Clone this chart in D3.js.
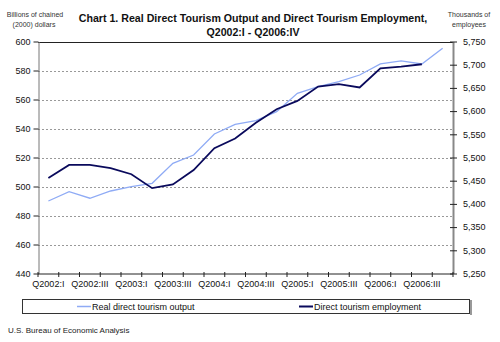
<!DOCTYPE html>
<html><head><meta charset="utf-8">
<script src="https://cdn.jsdelivr.net/npm/d3@7"></script>
<style>body{margin:0;background:#fff}svg{display:block;font-family:"Liberation Sans",Arial,sans-serif}</style>
</head><body><svg id="c" width="500" height="342"></svg>
<script>
const quarters = ["Q2002:I","Q2002:II","Q2002:III","Q2002:IV","Q2003:I","Q2003:II","Q2003:III","Q2003:IV",
 "Q2004:I","Q2004:II","Q2004:III","Q2004:IV","Q2005:I","Q2005:II","Q2005:III","Q2005:IV",
 "Q2006:I","Q2006:II","Q2006:III","Q2006:IV"];
const outputVals = [490,496.4,491.9,496.9,499.9,502.2,516,521.7,536.2,542.9,545.4,551.6,564.3,568.8,572.3,576.9,584.5,586.6,584.5,595.3];
const employmentVals = [5456,5484,5484,5477,5464,5434,5442,5473,5520,5541,5575,5604,5622,5653,5658,5651,5692,5696,5701];
const leftTicks = [440,460,480,500,520,540,560,580,600];
const rightTicks = [5250,5300,5350,5400,5450,5500,5550,5600,5650,5700,5750];
const xLabelsShown = ["Q2002:I","Q2002:III","Q2003:I","Q2003:III","Q2004:I","Q2004:III","Q2005:I","Q2005:III","Q2006:I","Q2006:III"];

const svg = d3.select("#c");
const L = 38, R = 453, T = 41.5, B = 273.5;
const x = d3.scaleBand().domain(quarters).range([L, R]);
const yL = d3.scaleLinear().domain([440,600]).range([B, T]);
const yR = d3.scaleLinear().domain([5250,5750]).range([B, T]);
const cx = q => x(q) + x.bandwidth()/2;

// gridlines
svg.append("g").selectAll("line").data(leftTicks.filter(d => d>440 && d<600)).join("line")
  .attr("x1", L).attr("x2", R).attr("y1", d => Math.round(yL(d))+0.5).attr("y2", d => Math.round(yL(d))+0.5)
  .attr("stroke", "#999").attr("stroke-dasharray", "2,2").attr("stroke-width", 1);
// top border
svg.append("line").attr("x1", L).attr("x2", R).attr("y1", Math.round(T)+0.5).attr("y2", Math.round(T)+0.5).attr("stroke", "#222");

// left axis
const gl = svg.append("g").attr("transform", `translate(${L+0.5},0)`)
  .call(d3.axisLeft(yL).tickValues(leftTicks).tickSize(5).tickSizeOuter(0).tickPadding(3));
gl.select(".domain").attr("stroke", "#777");
gl.selectAll(".tick line").attr("stroke", "#222");
gl.selectAll("text").attr("font-size", 9).attr("fill", "#111").attr("font-family", "Liberation Sans, Arial");

// right axis
const gr = svg.append("g").attr("transform", `translate(${R},0)`)
  .call(d3.axisRight(yR).tickValues(rightTicks).tickSize(4).tickSizeOuter(0).tickPadding(6).tickFormat(d3.format(",")));
gr.select(".domain").attr("stroke", "#888").attr("stroke-width", 2);
gr.selectAll(".tick line").attr("stroke", "#222").attr("x1", -3);
gr.selectAll("text").attr("font-size", 9).attr("fill", "#111").attr("font-family", "Liberation Sans, Arial");

// bottom axis
const gb = svg.append("g").attr("transform", `translate(0,${B+0.5})`);
gb.append("line").attr("x1", L).attr("x2", R).attr("stroke", "#222");
gb.selectAll("line.tk").data(d3.range(quarters.length+1)).join("line").attr("class","tk")
  .attr("x1", i => L + i*x.bandwidth()).attr("x2", i => L + i*x.bandwidth())
  .attr("y1", -2).attr("y2", 3).attr("stroke", "#222");
gb.selectAll("text").data(xLabelsShown).join("text")
  .attr("x", d => cx(d)).attr("y", 13).attr("text-anchor", "middle")
  .attr("font-size", 9).attr("fill", "#111").text(d => d);

// lines
svg.append("path").datum(outputVals)
  .attr("d", d3.line().x((d,i) => cx(quarters[i])).y(d => yL(d)))
  .attr("fill", "none").attr("stroke", "#8fabf5").attr("stroke-width", 1.3);
svg.append("path").datum(employmentVals)
  .attr("d", d3.line().x((d,i) => cx(quarters[i])).y(d => yR(d)))
  .attr("fill", "none").attr("stroke", "#0a0a5c").attr("stroke-width", 1.8);

// titles (fit to reference widths by font size)
function fitTitle(t, yy, w) {
  const el = svg.append("text").attr("x", 253).attr("y", yy).attr("text-anchor", "middle")
    .attr("font-family", "'Liberation Sans Narrow', 'Liberation Sans', Arial")
    .attr("font-size", 12.5).attr("font-weight", "bold").attr("fill", "#111").text(t);
  const len = el.node().getComputedTextLength();
  if (len > 0) el.attr("font-size", Math.min(13, 12.5 * w / len));
}
fitTitle("Chart 1. Real Direct Tourism Output and Direct Tourism Employment,", 22, 349);
fitTitle("Q2002:I - Q2006:IV", 36, 93);

const small = (t, xx, yy) => svg.append("text").attr("x", xx).attr("y", yy).attr("text-anchor", "middle")
  .attr("font-size", 7).attr("fill", "#333").text(t);
small("Billions of chained", 35, 16.5);
small("(2000) dollars", 34, 27);
small("Thousands of", 469, 16.5);
small("employees", 469, 27);

// legend
svg.append("rect").attr("x", 22.5).attr("y", 299.5).attr("width", 447).attr("height", 14)
  .attr("fill", "#fff").attr("stroke", "#333");
svg.append("line").attr("x1", 471).attr("x2", 471).attr("y1", 300).attr("y2", 315).attr("stroke", "#999").attr("stroke-width", 2);
svg.append("line").attr("x1", 77).attr("x2", 91).attr("y1", 306.5).attr("y2", 306.5).attr("stroke", "#8fabf5").attr("stroke-width", 1.5);
svg.append("text").attr("x", 92).attr("y", 309.5).attr("font-size", 9).attr("fill", "#111").text("Real direct tourism output");
svg.append("line").attr("x1", 299).attr("x2", 313).attr("y1", 306.5).attr("y2", 306.5).attr("stroke", "#0a0a5c").attr("stroke-width", 2);
svg.append("text").attr("x", 314).attr("y", 309.5).attr("font-size", 9).attr("fill", "#111").text("Direct tourism employment");

svg.append("text").attr("x", 8).attr("y", 333).attr("font-size", 8).attr("fill", "#222").text("U.S. Bureau of Economic Analysis");
</script></body></html>
